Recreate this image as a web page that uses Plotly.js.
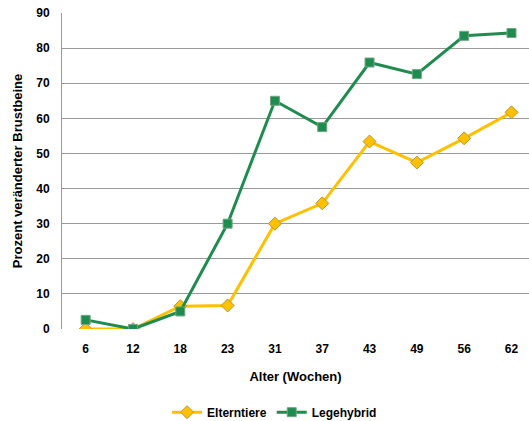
<!DOCTYPE html>
<html>
<head>
<meta charset="utf-8">
<script src="https://cdn.plot.ly/plotly-3.0.1.min.js"></script>
<style>html,body{margin:0;padding:0;background:#fff;}#chart{width:529px;height:421px;}</style>
</head>
<body>
<div id="chart"></div>
<script>
const categories = ["6", "12", "18", "23", "31", "37", "43", "49", "56", "62"];
const elterntiere = [0, 0, 6.5, 6.7, 30, 35.8, 53.4, 47.4, 54.3, 61.7];
const legehybrid = [2.6, 0, 5, 30, 65, 57.5, 75.9, 72.6, 83.5, 84.3];
const yTicks = [0, 10, 20, 30, 40, 50, 60, 70, 80, 90];

const fam = "Liberation Sans, Arial, sans-serif";

const traces = [
  {
    x: categories, y: elterntiere, name: "<b>Elterntiere</b>", type: "scatter", mode: "lines+markers",
    line: {color: "#FFC000", width: 3},
    marker: {symbol: "diamond", size: 10, color: "#FFC000", line: {color: "#B8963A", width: 1}}
  },
  {
    x: categories, y: legehybrid, name: "<b>Legehybrid</b>", type: "scatter", mode: "lines+markers",
    line: {color: "#1E8C4E", width: 3},
    marker: {symbol: "square", size: 9, color: "#1E8C4E", line: {color: "#6FA582", width: 1}}
  }
];

const layout = {
  width: 529, height: 421,
  margin: {l: 62, r: 0, t: 13, b: 92, autoexpand: false},
  paper_bgcolor: "#fff", plot_bgcolor: "#fff",
  font: {family: fam, size: 12, color: "#000"},
  showlegend: true,
  legend: {orientation: "h", xref: "container", x: 0.519, xanchor: "center",
    yref: "container", y: 0.021, yanchor: "middle",
    font: {family: fam, size: 12, color: "#000"}, itemwidth: 30, tracegroupgap: 0},
  xaxis: {
    type: "category", range: [-0.5, 9.37],
    tickvals: categories, ticktext: categories.map(c => "<b>" + c + "</b>"),
    showgrid: false, zeroline: false, showline: false,
    ticks: "outside", ticklen: 9, tickcolor: "rgba(0,0,0,0)",
    tickfont: {family: fam, size: 12, color: "#000"},
    title: {text: "<b>Alter (Wochen)</b>", font: {family: fam, size: 13, color: "#000"}, standoff: 16}
  },
  yaxis: {
    range: [0, 90], tickvals: yTicks, ticktext: yTicks.map(v => "<b>" + v + "</b>"),
    showgrid: true, gridcolor: "#9a9a9a", gridwidth: 1,
    zeroline: false, showline: true, linecolor: "#9a9a9a", linewidth: 1,
    ticks: "outside", ticklen: 9, tickcolor: "rgba(0,0,0,0)",
    tickfont: {family: fam, size: 12, color: "#000"},
    title: {text: "<b>Prozent veränderter Brustbeine</b>", font: {family: fam, size: 13, color: "#000"}, standoff: 10}
  }
};

Plotly.newPlot("chart", traces, layout, {displayModeBar: false, staticPlot: true});
</script>
</body>
</html>
